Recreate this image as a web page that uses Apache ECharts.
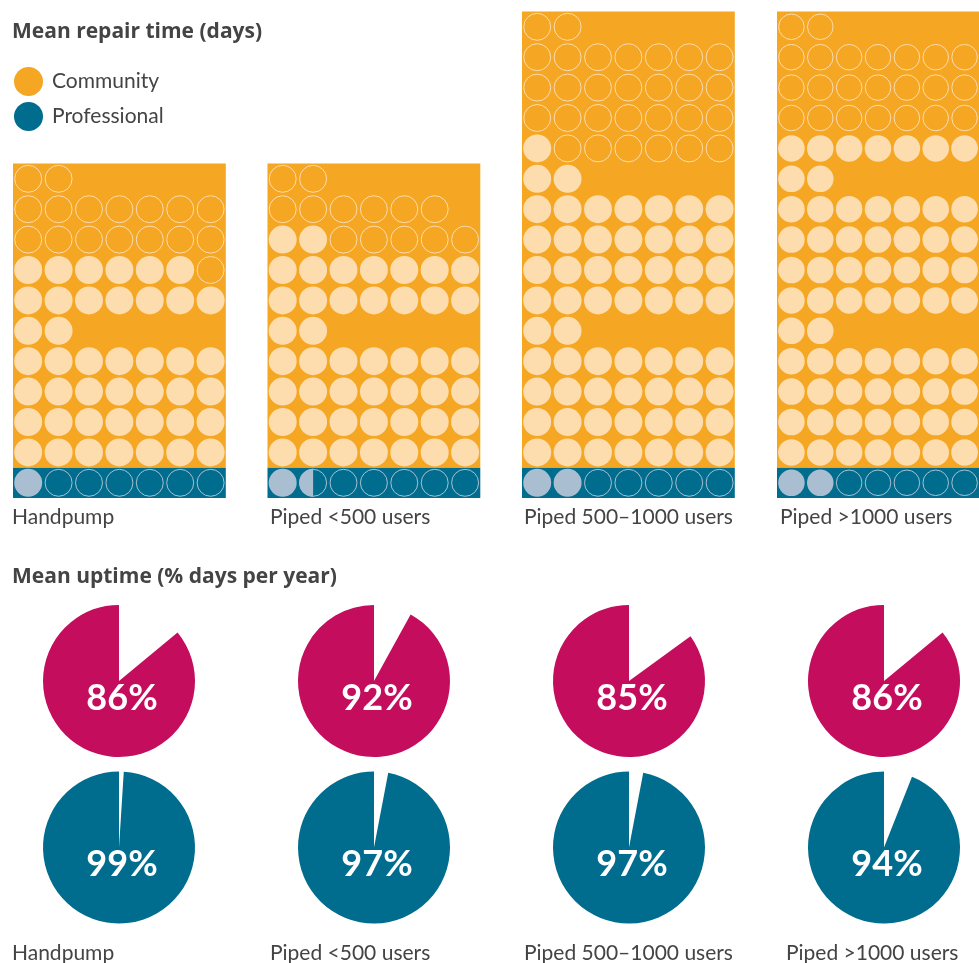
<!DOCTYPE html>
<html>
<head>
<meta charset="utf-8">
<title>Repair time and uptime</title>
<script src="https://cdn.jsdelivr.net/npm/echarts@6/dist/echarts.min.js"></script>
<style>
  html, body { margin: 0; padding: 0; background: #ffffff; }
  #chart { width: 979px; height: 963px; }
</style>
</head>
<body>
<div id="chart"></div>
<script>
// ---- data ----
const categories = ['Handpump', 'Piped <500 users', 'Piped 500–1000 users', 'Piped >1000 users'];
const communityRepairDays = [43, 46, 61, 67];
const professionalRepairDays = [1, 1.5, 2, 2];
// calendar blocks (days in each month) that frame the community dots
const monthBlocks = [[30, 30], [30, 29], [30, 30, 30], [30, 30, 30]];
const weekDays = 7;
const communityUptime = [86, 92, 85, 86];
const professionalUptime = [99, 97, 97, 94];

// ---- styling & layout ----
const COLORS = {
  community: '#F5A623',
  communityDot: '#FDDCAE',
  professional: '#006D8F',
  professionalDot: '#A9BFD1',
  uptimeCommunity: '#C40D5C',
  uptimeProfessional: '#006D8F',
  text: '#444444'
};
const FONT = 'Lato, "Open Sans", sans-serif';
const HEAD_FONT = '"Open Sans", Lato, sans-serif';
const CELL = 30.4;
const ROWS_PER_MONTH = 5;
const panelLeft = [13, 267.5, 522, 777];
const panelBottom = 498;
const pieX = [119, 374, 629, 884];
const pieY = [681, 847.5];
const pieRadius = 76;
const labelX = [12, 270, 524, 780];
const bottomLabelX = [12, 270, 524, 786];

// Slot list for one panel: [column, row, fill 0..1]
function professionalSlots(days) {
  const out = [];
  for (let c = 0; c < weekDays; c++) {
    out.push([c, 0, Math.max(0, Math.min(1, days - c))]);
  }
  return out;
}
function communitySlots(days, months) {
  const out = [];
  let dayOffset = 0;
  months.forEach(function (n, m) {
    const base = 1 + m * ROWS_PER_MONTH;
    const main = n - 2;           // the last two days sit in a short top row
    for (let k = 0; k < n; k++) {
      let col, row;
      if (k < main) { col = k % weekDays; row = base + Math.floor(k / weekDays); }
      else { col = k - main; row = base + ROWS_PER_MONTH - 1; }
      out.push([col, row, Math.max(0, Math.min(1, days - (dayOffset + k)))]);
    }
    dayOffset += n;
  });
  return out;
}

function dotRenderer(fillColor, lineColor) {
  return function (params, api) {
    const c = api.coord([api.value(0) + 0.5, api.value(1) + 0.5]);
    const r = api.size([1, 1])[0] * 0.46;
    const f = api.value(2);
    const children = [];
    if (f >= 1) {
      children.push({ type: 'circle', shape: { cx: c[0], cy: c[1], r: r }, style: { fill: fillColor } });
    } else {
      children.push({ type: 'circle', shape: { cx: c[0], cy: c[1], r: r - 0.5 },
        style: { fill: 'none', stroke: lineColor, lineWidth: 1 } });
      if (f > 0) {
        // left-hand segment of the circle, cut by a vertical chord
        const chord = -r + 2 * r * f;
        const t0 = Math.acos(chord / r);
        const pts = [];
        const steps = 40;
        for (let i = 0; i <= steps; i++) {
          const t = t0 + (2 * Math.PI - 2 * t0) * i / steps;
          pts.push([c[0] + r * Math.cos(t), c[1] + r * Math.sin(t)]);
        }
        children.push({ type: 'polygon', shape: { points: pts }, style: { fill: fillColor } });
      }
    }
    return { type: 'group', children: children };
  };
}

function blockRenderer(params, api) {
  const p0 = api.coord([api.value(0), api.value(3)]);
  const p1 = api.coord([api.value(2), api.value(1)]);
  return {
    type: 'rect',
    shape: { x: p0[0], y: p0[1], width: p1[0] - p0[0], height: p1[1] - p0[1] },
    style: { fill: api.value(4) === 1 ? COLORS.community : COLORS.professional }
  };
}

const grid = [], xAxis = [], yAxis = [], series = [], graphic = [];

categories.forEach(function (name, p) {
  const rows = monthBlocks[p].length * ROWS_PER_MONTH + 1;
  grid.push({ left: panelLeft[p], top: panelBottom - rows * CELL, width: weekDays * CELL, height: rows * CELL });
  xAxis.push({ gridIndex: p, type: 'value', min: 0, max: weekDays, show: false });
  yAxis.push({ gridIndex: p, type: 'value', min: 0, max: rows, show: false });

  series.push({
    type: 'custom', xAxisIndex: p, yAxisIndex: p, silent: true, z: 1, clip: false,
    encode: { x: [0, 2], y: [1, 3] },
    renderItem: blockRenderer,
    data: [[0, 0, weekDays, 1, 0], [0, 1, weekDays, rows, 1]]
  });
  series.push({
    name: 'Community', type: 'custom', xAxisIndex: p, yAxisIndex: p, silent: true, z: 2, clip: false,
    itemStyle: { color: COLORS.community },
    encode: { x: 0, y: 1 },
    renderItem: dotRenderer(COLORS.communityDot, COLORS.communityDot),
    data: communitySlots(communityRepairDays[p], monthBlocks[p])
  });
  series.push({
    name: 'Professional', type: 'custom', xAxisIndex: p, yAxisIndex: p, silent: true, z: 2, clip: false,
    itemStyle: { color: COLORS.professional },
    encode: { x: 0, y: 1 },
    renderItem: dotRenderer(COLORS.professionalDot, COLORS.professionalDot),
    data: professionalSlots(professionalRepairDays[p])
  });

  // uptime pies
  [[communityUptime[p], COLORS.uptimeCommunity], [professionalUptime[p], COLORS.uptimeProfessional]]
    .forEach(function (pair, k) {
      const u = pair[0];
      series.push({
        type: 'pie', silent: true, animation: false,
        center: [pieX[p], pieY[k]], radius: pieRadius,
        startAngle: 90, clockwise: true, padAngle: 0,
        avoidLabelOverlap: false,
        emphasis: { disabled: true },
        itemStyle: { borderWidth: 0 },
        labelLine: { show: false },
        label: { show: false },
        data: [
          { value: 100 - u, itemStyle: { color: '#ffffff' }, label: { show: false } },
          { value: u, itemStyle: { color: pair[1] },
            label: { show: true, position: 'center', formatter: u + '%', offset: [3, 17],
              color: '#ffffff', fontSize: 36, fontWeight: 'bold', fontFamily: FONT } }
        ]
      });
    });

  graphic.push({ type: 'text', left: labelX[p], top: 507,
    style: { text: name, font: '21px ' + FONT, fill: COLORS.text } });
  graphic.push({ type: 'text', left: bottomLabelX[p], top: 943,
    style: { text: name, font: '21px ' + FONT, fill: COLORS.text } });
});

graphic.push({ type: 'text', left: 12, top: 22,
  style: { text: 'Mean repair time (days)', font: 'bold 21px ' + HEAD_FONT, fill: COLORS.text } });
graphic.push({ type: 'text', left: 12, top: 567,
  style: { text: 'Mean uptime (% days per year)', font: 'bold 21px ' + HEAD_FONT, fill: COLORS.text } });

const chart = echarts.init(document.getElementById('chart'), null, { renderer: 'canvas' });
chart.setOption({
  animation: false,
  backgroundColor: '#ffffff',
  legend: {
    data: ['Community', 'Professional'],
    orient: 'vertical', left: 14, top: 67, padding: 0,
    icon: 'circle', itemWidth: 29, itemHeight: 29, itemGap: 6,
    selectedMode: false,
    textStyle: { fontSize: 21, color: COLORS.text, fontFamily: FONT, padding: [0, 0, 0, 4] }
  },
  grid: grid,
  xAxis: xAxis,
  yAxis: yAxis,
  series: series,
  graphic: graphic
});
</script>
</body>
</html>
